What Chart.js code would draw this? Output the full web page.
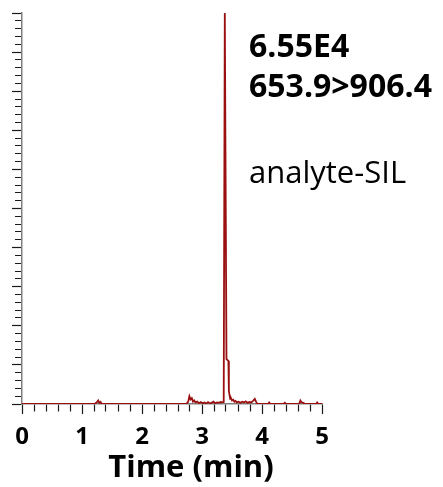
<!DOCTYPE html>
<html>
<head>
<meta charset="utf-8">
<script src="https://cdn.jsdelivr.net/npm/chart.js@4.4.1/dist/chart.umd.min.js"></script>
<style>
    html, body { margin: 0; padding: 0; background: #fff; }
    #wrap { width: 443px; height: 487px; position: relative; }
</style>
</head>
<body>
<div id="wrap"><canvas id="xicChart"></canvas></div>
<script>

// retention time (min) and relative intensity (%)
var times = [
    0.00, 1.20, 1.24, 1.27, 1.29, 1.31, 1.33,
    2.74, 2.77, 2.79, 2.81, 2.83, 2.85, 2.87, 2.89, 2.92, 2.95, 2.98,
    3.01, 3.04, 3.07, 3.10, 3.13, 3.16, 3.19, 3.22, 3.25, 3.28, 3.31, 3.34,
    3.362, 3.380, 3.408, 3.440, 3.448,
    3.46, 3.47, 3.48, 3.50, 3.52, 3.54, 3.56, 3.58, 3.61, 3.64, 3.67, 3.70,
    3.73, 3.76, 3.79, 3.82, 3.85, 3.88, 3.90, 3.92, 3.95,
    4.10, 4.12, 4.14, 4.36, 4.38, 4.40, 4.62, 4.64, 4.66, 4.69, 4.71,
    4.90, 4.92, 4.94, 5.00
];

var intensities = [
    0.0, 0.0, 0.3, 0.9, 0.2, 0.5, 0.0,
    0.0, 0.6, 2.0, 1.2, 1.5, 0.6, 0.9, 0.4, 0.6, 0.2, 0.5,
    0.2, 0.4, 0.1, 0.5, 0.2, 0.3, 0.6, 0.2, 0.4, 0.3, 0.5, 0.4,
    0.5, 100, 11.5, 11.0, 3.3,
    2.2, 1.3, 1.6, 0.9, 1.1, 0.6, 0.8, 0.4, 0.6, 0.3, 0.6, 0.4,
    0.7, 0.3, 0.5, 0.4, 0.8, 1.3, 0.6, 0.1, 0.0,
    0.0, 0.4, 0.0, 0.0, 0.3, 0.0, 0.0, 0.9, 0.4, 0.3, 0.0,
    0.0, 0.4, 0.0, 0.0
];

var xTickLabels = ["0", "1", "2", "3", "4", "5"];
var xTitle = "Time (min)";

var infoLines = ["6.55E4", "653.9>906.4"];
var compoundName = "analyte-SIL";


var points = times.map(function (t, i) {
    return { x: t, y: intensities[i] };
});

function isMajor(v, step) {
    return Math.abs(v / step - Math.round(v / step)) < 1e-6;
}


// text block right of the peak + axis title (sits a bit right of centre)
var infoText = {
    id: "infoText",
    afterDraw: function (chart) {
        var ctx = chart.ctx;
        ctx.save();
        ctx.fillStyle = "#000";
        ctx.textBaseline = "alphabetic";
        ctx.textAlign = "left";
        ctx.font = "bold 32px 'Open Sans'";
        ctx.fillText(infoLines[0], 249, 57);
        ctx.fillText(infoLines[1], 249, 97);
        ctx.font = "31px 'Open Sans'";
        ctx.fillText(compoundName, 249, 183);

        ctx.textAlign = "center";
        ctx.font = "bold 31px 'Open Sans'";
        ctx.fillText(xTitle, 191, 477);
        ctx.restore();
    }
};


new Chart(
    document.getElementById("xicChart"),
    {
        type: "line",

        data: {
            datasets: [{
                data: points,
                borderColor: "#9a1010",
                borderWidth: 1.8,
                pointRadius: 0,
                tension: 0,
                fill: false
            }]
        },

        options: {
            responsive: true,
            maintainAspectRatio: false,
            animation: false,
            events: [],

            layout: {
                padding: { left: 12, top: 13, right: 121, bottom: 0 }
            },

            plugins: {
                legend: { display: false },
                tooltip: { enabled: false }
            },

            scales: {
                x: {
                    type: "linear",
                    min: 0,
                    max: 5,
                    afterFit: function (scale) {
                        scale.height = 83;
                    },
                    border: { color: "#808080", width: 1.5 },
                    grid: {
                        drawOnChartArea: false,
                        tickLength: 10,
                        tickColor: "#1a1a1a",
                        tickWidth: 1.2,
                        tickBorderDash: function (c) {
                            return isMajor(c.tick.value, 1) ? [] : [7, 100];
                        }
                    },
                    ticks: {
                        stepSize: 0.2,
                        autoSkip: false,
                        maxRotation: 0,
                        padding: 9,
                        color: "#000",
                        font: { family: "'Open Sans'", size: 24, weight: "bold" },
                        callback: function (v) {
                            return isMajor(v, 1) ? xTickLabels[Math.round(v)] : "";
                        }
                    }
                },
                y: {
                    min: 0,
                    max: 100,
                    border: { color: "#808080", width: 1.5 },
                    grid: {
                        drawOnChartArea: false,
                        tickLength: 10,
                        tickColor: "#1a1a1a",
                        tickWidth: 1.2,
                        tickBorderDash: function (c) {
                            return isMajor(c.tick.value, 10) ? [] : [0, 3, 100];
                        }
                    },
                    ticks: {
                        stepSize: 2,
                        display: false
                    }
                }
            }
        },

        plugins: [infoText]
    }
);

</script>
</body>
</html>
